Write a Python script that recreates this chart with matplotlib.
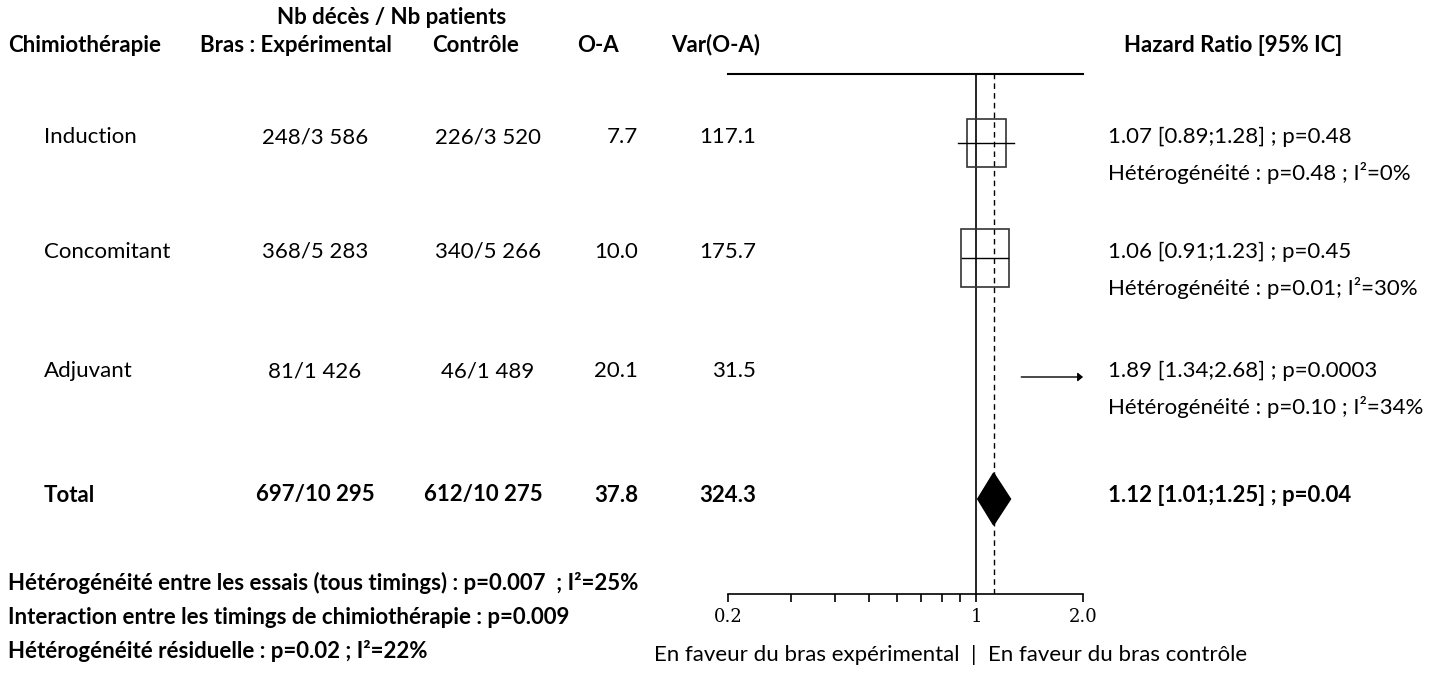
import numpy as np
import matplotlib.pyplot as plt
from matplotlib.patches import Rectangle, Polygon
from matplotlib.ticker import NullFormatter

plt.rcParams['font.family'] = ['Lato', 'DejaVu Sans']

#---- data -----------------------------------------------------
timings = ['Induction', 'Concomitant', 'Adjuvant']
exp_arm = ['248/3 586', '368/5 283', '81/1 426']
ctrl_arm = ['226/3 520', '340/5 266', '46/1 489']
o_minus_a = ['7.7', '10.0', '20.1']
var_oa = [117.1, 175.7, 31.5]
hr = [1.07, 1.06, 1.89]
ci_low = [0.89, 0.91, 1.34]
ci_high = [1.28, 1.23, 2.68]
p_vals = ['0.48', '0.45', '0.0003']
het_txt = ['p=0.48 ; I²=0%', 'p=0.01; I²=30%', 'p=0.10 ; I²=34%']

total_exp = '697/10 295'
total_ctrl = '612/10 275'
total_oa = '37.8'
total_var = 324.3
total_hr = 1.12
total_low = 1.01
total_high = 1.25
total_p = '0.04'

footer = ['Hétérogénéité entre les essais (tous timings) : p=0.007  ; I²=25%',
          'Interaction entre les timings de chimiothérapie : p=0.009',
          'Hétérogénéité résiduelle : p=0.02 ; I²=22%']

tick_vals = [0.2, 1, 2.0]
tick_labels = ['0.2', '1', '2.0']
minor_vals = [0.3, 0.4, 0.5, 0.6, 0.7, 0.8, 0.9]

#---- layout (pixels) ------------------------------------------
W, H = 1456, 673
row_y = [143, 258, 377]
total_y = 499
txt_dy = -6
fs = 16

fig = plt.figure(figsize=(W / 100, H / 100), dpi=100)
tax = fig.add_axes([0, 0, 1, 1])
tax.set_xlim(0, W)
tax.set_ylim(H, 0)
tax.axis('off')

# header
tax.text(392, 17, 'Nb décès / Nb patients', fontsize=fs, fontweight='bold', ha='center', va='center')
tax.text(8, 45, 'Chimiothérapie', fontsize=fs, fontweight='bold', ha='left', va='center')
tax.text(296, 45, 'Bras : Expérimental', fontsize=fs, fontweight='bold', ha='center', va='center')
tax.text(476, 45, 'Contrôle', fontsize=fs, fontweight='bold', ha='center', va='center')
tax.text(598, 45, 'O-A', fontsize=fs, fontweight='bold', ha='center', va='center')
tax.text(716, 45, 'Var(O-A)', fontsize=fs, fontweight='bold', ha='center', va='center')
tax.text(1233, 45, 'Hazard Ratio [95% IC]', fontsize=fs, fontweight='bold', ha='center', va='center')

# rows
for i in range(len(timings)):
    y = row_y[i] + txt_dy
    tax.text(44, y, timings[i], fontsize=fs, ha='left', va='center')
    tax.text(315, y, exp_arm[i], fontsize=fs, ha='center', va='center')
    tax.text(488, y, ctrl_arm[i], fontsize=fs, ha='center', va='center')
    tax.text(638, y, o_minus_a[i], fontsize=fs, ha='right', va='center')
    tax.text(756, y, '%.1f' % var_oa[i], fontsize=fs, ha='right', va='center')
    tax.text(1108, y, '%.2f [%.2f;%.2f] ; p=%s' % (hr[i], ci_low[i], ci_high[i], p_vals[i]),
             fontsize=fs, ha='left', va='center')
    tax.text(1108, y + 36, 'Hétérogénéité : ' + het_txt[i], fontsize=fs, ha='left', va='center')

y = total_y + txt_dy + 2
tax.text(44, y, 'Total', fontsize=fs, fontweight='bold', ha='left', va='center')
tax.text(315, y, total_exp, fontsize=fs, fontweight='bold', ha='center', va='center')
tax.text(483, y, total_ctrl, fontsize=fs, fontweight='bold', ha='center', va='center')
tax.text(638, y, total_oa, fontsize=fs, fontweight='bold', ha='right', va='center')
tax.text(756, y, '%.1f' % total_var, fontsize=fs, fontweight='bold', ha='right', va='center')
tax.text(1108, y, '%.2f [%.2f;%.2f] ; p=%s' % (total_hr, total_low, total_high, total_p),
         fontsize=fs, fontweight='bold', ha='left', va='center')

for k, line in enumerate(footer):
    tax.text(8, 583 + 34 * k, line, fontsize=fs, fontweight='bold', ha='left', va='center')
tax.text(951, 655, 'En faveur du bras expérimental  |  En faveur du bras contrôle',
         fontsize=fs, ha='center', va='center')

#---- forest plot ----------------------------------------------
x0, x1, ytop, ybot = 728, 1083, 74, 594
fax = fig.add_axes([x0 / W, (H - ybot) / H, (x1 - x0) / W, (ybot - ytop) / H])
fax.set_xscale('log')
fax.set_xlim(tick_vals[0], tick_vals[-1])
fax.set_ylim(ybot, ytop)
fax.patch.set_alpha(0)
for s in ['left', 'right']:
    fax.spines[s].set_visible(False)
fax.spines['top'].set_linewidth(1.5)
fax.spines['bottom'].set_linewidth(1.2)
fax.set_yticks([])
fax.set_xticks(tick_vals)
fax.set_xticklabels(tick_labels, fontfamily='DejaVu Serif', fontsize=13)
fax.set_xticks(minor_vals, minor=True)
fax.xaxis.set_minor_formatter(NullFormatter())
fax.tick_params(axis='x', which='both', direction='out', length=6, width=1.2, pad=4)

px_per_dec = (x1 - x0) / np.log10(tick_vals[-1] / tick_vals[0])

fax.axvline(1, color='black', lw=1.2, zorder=1)
fax.axvline(total_hr, color='black', lw=1, ls=(0, (4, 3)), zorder=1)

for i in range(len(timings)):
    y = row_y[i]
    w = 3.6 * np.sqrt(var_oa[i])
    h = 4.44 * np.sqrt(var_oa[i])
    bl = hr[i] * 10 ** (-w / 2 / px_per_dec)
    br = hr[i] * 10 ** (w / 2 / px_per_dec)
    if br <= tick_vals[-1]:
        fax.add_patch(Rectangle((bl, y - h / 2), br - bl, h, fill=False,
                                edgecolor='#333333', lw=1.2, zorder=2))
    hi = min(ci_high[i], tick_vals[-1])
    if ci_high[i] > tick_vals[-1]:
        fax.annotate('', xy=(hi, y), xytext=(ci_low[i], y),
                     arrowprops=dict(arrowstyle='-|>,head_length=0.3,head_width=0.25',
                                     color='black', lw=1, shrinkA=0, shrinkB=0))
    else:
        fax.plot([ci_low[i], hi], [y, y], color='black', lw=1, zorder=3)

dh = 26
fax.add_patch(Polygon([(total_low, total_y), (total_hr, total_y - dh),
                       (total_high, total_y), (total_hr, total_y + dh)],
                      closed=True, facecolor='black', edgecolor='black', zorder=3))

fig.savefig('out.png', dpi=100)
